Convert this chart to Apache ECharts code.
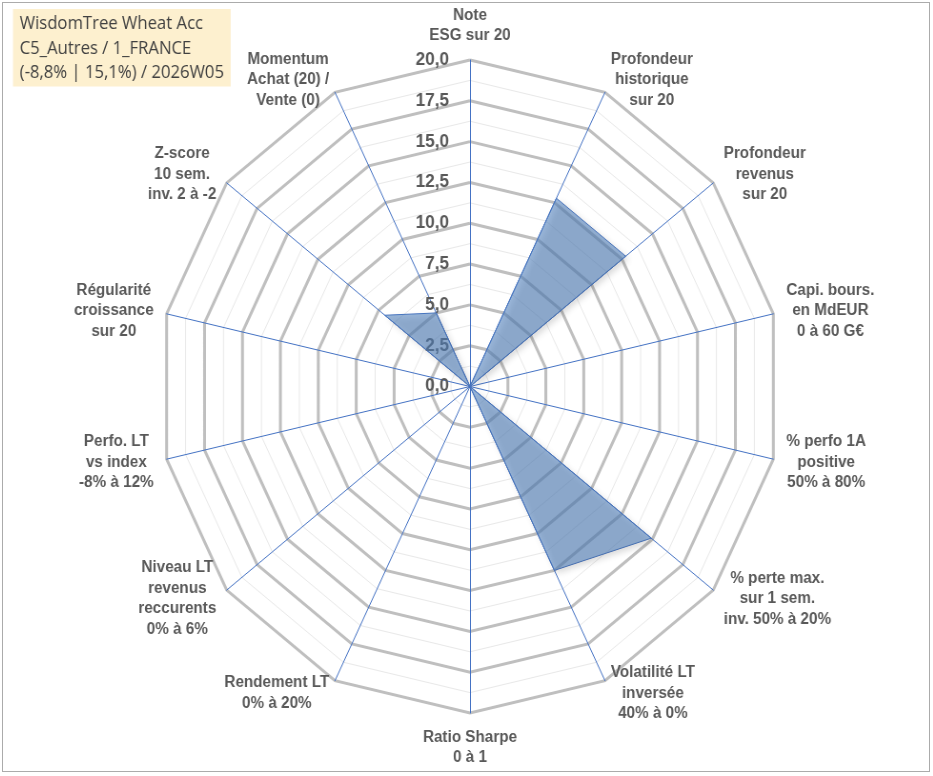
<!DOCTYPE html>
<html>
<head>
<meta charset="utf-8">
<title>WisdomTree Wheat Acc</title>
<script src="https://cdn.jsdelivr.net/npm/echarts@6.0.0/dist/echarts.min.js"></script>
<style>
	html, body { margin: 0; padding: 0; background: #fff; }
	#frame { position: absolute; left: 2px; top: 2px; width: 926px; height: 768px; border: 1px solid #ababab; overflow: hidden; }
	/* the original picture is slightly squeezed horizontally */
	#chart { width: 972px; height: 768px; transform: scaleX(0.953); transform-origin: 0 0; }
</style>
</head>
<body>
<div id="frame"><div id="chart"></div></div>
<script>
var titleLines = ['WisdomTree Wheat Acc', 'C5_Autres / 1_FRANCE', '(-8,8% | 15,1%) / 2026W05'];
// axes in clockwise order, starting at the top
var axisNames = [
	'Note\nESG sur 20',
	'Profondeur\nhistorique\nsur 20',
	'Profondeur\nrevenus\nsur 20',
	'Capi. bours.\nen MdEUR\n0 à 60 G€',
	'% perfo 1A\npositive\n50% à 80%',
	'% perte max.\nsur 1 sem.\ninv. 50% à 20%',
	'Volatilité LT\ninversée\n40% à 0%',
	'Ratio Sharpe\n0 à 1',
	'Rendement LT\n0% à 20%',
	'Niveau LT\nrevenus\nreccurents\n0% à 6%',
	'Perfo. LT\nvs index\n-8% à 12%',
	'Régularité\ncroissance\nsur 20',
	'Z-score\n10 sem.\ninv. 2 à -2',
	'Momentum\nAchat (20) /\nVente (0)'
];
var scores = [0, 12.8, 12.8, 0, 0, 14.9, 12.5, 0, 0, 0, 0, 0, 7.0, 5.0];
var scaleMax = 20;
var majorSteps = 8;   // 2,5
var minorSteps = 16;  // 1,25

var font = 'Arial, "Liberation Sans", sans-serif';
var chart = echarts.init(document.getElementById('chart'));

// radar runs counter-clockwise, so keep the first axis and reverse the rest
var order = [0];
for (var i = axisNames.length - 1; i > 0; i--) order.push(i);

var makeIndicators = function(withLabel){
	return order.map(function(idx, k){
		var ind = { name: axisNames[idx], min: 0, max: scaleMax };
		if (withLabel) ind.axisLabel = { show: k === 0 };
		return ind;
	});
};

var base = function(){
	return {
		center: [490, 383.5],
		radius: 326.5,
		startAngle: 90,
		shape: 'polygon',
		axisTick: { show: false },
		splitArea: { show: false }
	};
};

var minor = base();
minor.z = 0;
minor.indicator = makeIndicators(false);
minor.splitNumber = minorSteps;
minor.axisName = { show: false };
minor.axisLine = { show: false };
minor.splitLine = { lineStyle: { color: '#e9e9e9', width: 1 } };

var major = base();
major.z = 1;
major.indicator = makeIndicators(false);
major.splitNumber = majorSteps;
major.axisName = { show: false };
major.axisLine = { show: false };
major.splitLine = { lineStyle: { color: '#bfbfbf', width: 3 } };

var axes = base();
axes.z = 2;
axes.indicator = makeIndicators(true);
axes.splitNumber = majorSteps;
axes.splitLine = { show: false };
axes.axisLine = { show: true, lineStyle: { color: '#4472c4', width: 1 } };
axes.axisLabel = {
	show: false,
	margin: 22,
	color: '#595959',
	fontFamily: font,
	fontSize: 18,
	fontWeight: 'bold',
	formatter: function(v){ return v.toFixed(1).replace('.', ','); }
};
axes.nameGap = 14;
axes.axisName = {
	show: true,
	formatter: function(name){
		return name.split('\n').map(function(s){ return '{c|' + s + '}'; }).join('\n');
	},
	rich: {
		c: { align: 'center', color: '#595959', fontFamily: font, fontSize: 16, fontWeight: 'bold', lineHeight: 20.5 }
	}
};

chart.setOption({
	animation: false,
	backgroundColor: '#fff',
	title: {
		text: titleLines.join('\n'),
		left: 10.5,
		top: 6,
		backgroundColor: '#fdf0cf',
		padding: [3, 7, 1, 7],
		textStyle: { fontFamily: '"Open Sans", sans-serif', fontSize: 17.5, fontWeight: 'normal', color: '#404040', lineHeight: 24.5 }
	},
	radar: [minor, major, axes],
	series: [{
		type: 'radar',
		radarIndex: 2,
		z: 3,
		symbol: 'none',
		lineStyle: { color: '#4472c4', width: 1 },
		areaStyle: {
			color: 'rgba(86,132,192,0.85)',
			shadowBlur: 6,
			shadowColor: 'rgba(0,0,0,0.25)',
			shadowOffsetX: 3,
			shadowOffsetY: 3
		},
		data: [{ value: order.map(function(idx){ return scores[idx]; }), name: titleLines[0] }]
	}]
});
</script>
</body>
</html>
